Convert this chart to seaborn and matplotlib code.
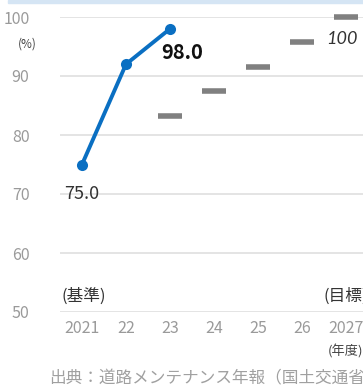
import matplotlib
matplotlib.use("Agg")
import matplotlib.pyplot as plt
import seaborn as sns
import pandas as pd
from matplotlib.patches import Rectangle

years = ["2021", "22", "23", "24", "25", "26", "2027"]
actual_years = ["2021", "22", "23"]
actual_values = [75.0, 92.0, 98.0]
target_years = ["23", "24", "25", "26", "2027"]
target_values = [83.2, 87.4, 91.6, 95.8, 100.0]
yticks = [50, 60, 70, 80, 90, 100]

sns.set_theme(style="white")
plt.rcParams['font.family'] = ['Noto Sans CJK JP', 'DejaVu Sans']

pos = {y: i for i, y in enumerate(years)}
df_a = pd.DataFrame({"x": [pos[y] for y in actual_years], "v": actual_values})
df_t = pd.DataFrame({"x": [pos[y] for y in target_years], "v": target_values})

fig = plt.figure(figsize=(3.63, 3.90), dpi=100)
ax = fig.add_axes([60/363, 0.2, 308/363, 295/390])

blue = "#0a6fc2"
sns.lineplot(data=df_a, x="x", y="v", ax=ax, color=blue, linewidth=2.8,
             marker="o", markersize=8, markeredgewidth=0, clip_on=False)
sns.scatterplot(data=df_t, x="x", y="v", ax=ax, marker="_", s=300,
                color="#808080", linewidth=4, clip_on=False, zorder=3)

ax.set_xlim(-0.5, 6.5)
ax.set_ylim(50, 100)
ax.set_yticks(yticks)
ax.set_xticks(range(len(years)))
ax.set_xticklabels(years)
ax.set_xlabel("")
ax.set_ylabel("")
for s in ax.spines.values():
    s.set_visible(False)
ax.grid(axis="y", color="#e2e2e2", linewidth=1.3)
ax.set_axisbelow(True)
ax.tick_params(axis="both", length=0, labelsize=11.5, colors="#9a9a9a")
ax.tick_params(axis="y", pad=22)
ax.tick_params(axis="x", pad=6)

# value labels
ax.annotate("75.0", (df_a.x[0], df_a.v[0]), xytext=(0, -21), textcoords="offset points",
            ha="center", va="center", fontsize=13, color="#333333")
ax.annotate("98.0", (df_a.x[2], df_a.v[2]), xytext=(9, -17), textcoords="offset points",
            ha="center", va="center", fontsize=14.5, fontweight="bold", color="#111111")
ax.annotate("100", (df_t.x.iloc[-1], df_t.v.iloc[-1]), xytext=(-3, -16), textcoords="offset points",
            ha="center", va="center", fontsize=13, fontstyle="italic", color="#333333",
            family=["Lato", "DejaVu Sans"])

ax.text(-0.47, 52.7, "(基準)", ha="left", va="center", fontsize=12, color="#333333")
ax.text(5.48, 52.7, "(目標)", ha="left", va="center", fontsize=12, color="#333333")

fig.text(27/363, 1 - 44/390, "(%)", ha="center", va="center", fontsize=8.5, color="#444444")
fig.text(328/363, 1 - 351/390, "(年度)", ha="left", va="center", fontsize=9.5, color="#444444")
fig.text(49/363, 1 - 379/390, "出典：道路メンテナンス年報（国土交通省）", ha="left", va="center",
         fontsize=12, color="#a0a0a0")

fig.patches.append(Rectangle((8/363, 1 - 3/390), 1, 3/390, transform=fig.transFigure,
                             color="#d5e5f4", zorder=0))

fig.savefig("out.png", dpi=100)
